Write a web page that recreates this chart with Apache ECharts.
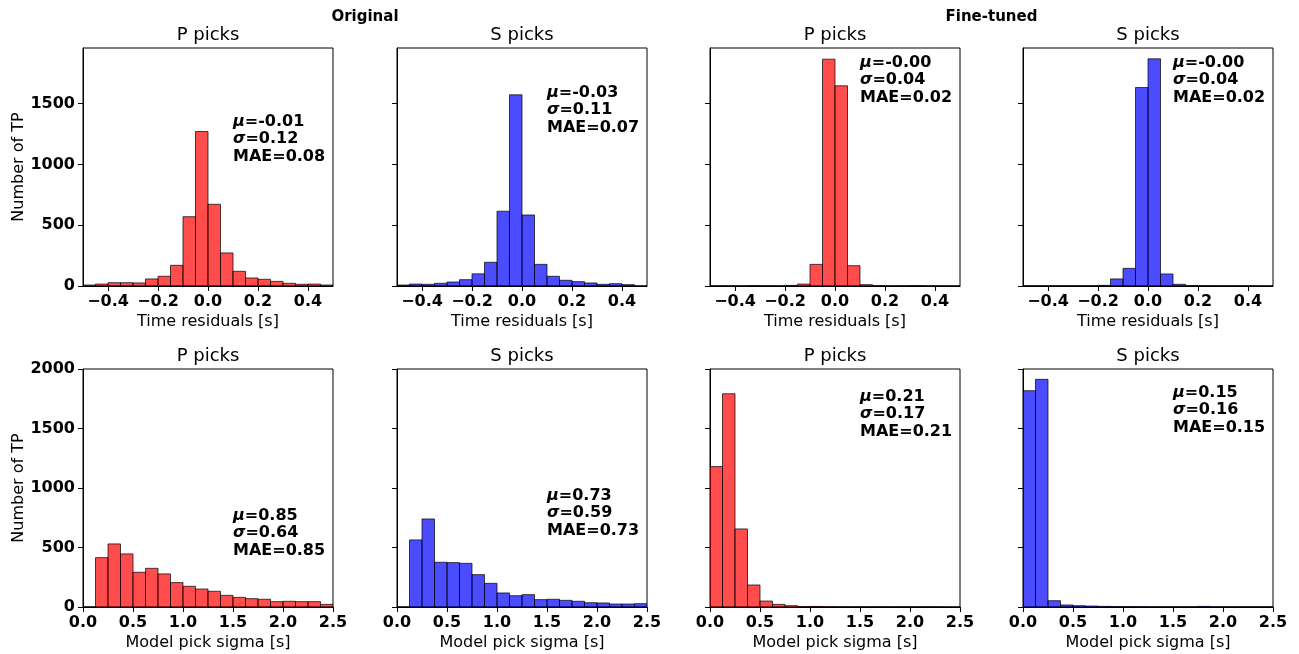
<!DOCTYPE html>
<html>
<head>
<meta charset="utf-8">
<script src="https://cdn.jsdelivr.net/npm/echarts@6.0.0/dist/echarts.min.js"></script>
<style>
    html, body {margin: 0; padding: 0; background: #fff;}
    #chart {width: 1299px; height: 654px;}
</style>
</head>
<body>
<div id="chart"></div>
<script>
// bin left edges
let timeBins = [-0.5, -0.45, -0.4, -0.35, -0.3, -0.25, -0.2, -0.15, -0.1, -0.05,
    0, 0.05, 0.1, 0.15, 0.2, 0.25, 0.3, 0.35, 0.4, 0.45];
let timeBinWidth = 0.05;
let sigmaBins = [0, 0.125, 0.25, 0.375, 0.5, 0.625, 0.75, 0.875, 1.0, 1.125,
    1.25, 1.375, 1.5, 1.625, 1.75, 1.875, 2.0, 2.125, 2.25, 2.375];
let sigmaBinWidth = 0.125;

// counts per bin
let origPTime = [8, 16, 27, 27, 25, 58, 80, 170, 570, 1270, 672, 272, 121, 66, 55, 38, 22, 14, 16, 8];
let origSTime = [8, 16, 14, 22, 33, 52, 100, 195, 615, 1572, 584, 178, 80, 47, 36, 25, 14, 19, 11, 0];
let ftPTime = [1, 1, 1, 3, 1, 1, 5, 16, 178, 1865, 1646, 167, 11, 3, 1, 1, 3, 1, 1, 0];
let ftSTime = [1, 1, 1, 1, 1, 1, 5, 58, 145, 1632, 1868, 99, 14, 3, 2, 1, 1, 1, 1, 0];
let origPSigma = [0, 415, 530, 446, 292, 325, 278, 205, 174, 151, 132, 98, 81, 70, 65, 45, 48, 45, 45, 22];
let origSSigma = [0, 564, 740, 376, 373, 367, 272, 199, 118, 95, 104, 62, 65, 56, 48, 36, 34, 25, 25, 28];
let ftPSigma = [1180, 1792, 656, 185, 50, 22, 11, 3, 5, 2, 1, 1, 1, 1, 1, 1, 1, 1, 1, 0];
let ftSSigma = [1818, 1913, 53, 17, 11, 8, 5, 3, 2, 2, 1, 1, 1, 1, 5, 1, 1, 1, 1, 1];

let timeTicks = [-0.4, -0.2, 0, 0.2, 0.4];
let sigmaTicks = [0, 0.5, 1.0, 1.5, 2.0, 2.5];
let timeCountTicks = [0, 500, 1000, 1500];
let sigmaCountTicks = [0, 500, 1000, 1500, 2000];

let groupTitles = ['Original', 'Fine-tuned'];
let panelTitles = ['P picks', 'S picks', 'P picks', 'S picks', 'P picks', 'S picks', 'P picks', 'S picks'];
// mu, sigma, MAE
let stats = [
    ['-0.01', '0.12', '0.08'], ['-0.03', '0.11', '0.07'], ['-0.00', '0.04', '0.02'], ['-0.00', '0.04', '0.02'],
    ['0.85', '0.64', '0.85'], ['0.73', '0.59', '0.73'], ['0.21', '0.17', '0.21'], ['0.15', '0.16', '0.15']
];

let RED = 'rgba(255,0,0,0.7)';
let BLUE = 'rgba(0,0,255,0.7)';
let FONT = 'DejaVu Sans';

let lefts = [83, 397, 710, 1023];
let tops = [48, 369];
let W = 250, H = 238;
let statsTop = [122, 93, 63, 63, 516, 496, 397, 393];

let panels = [
    {counts: origPTime, color: RED}, {counts: origSTime, color: BLUE},
    {counts: ftPTime, color: RED}, {counts: ftSTime, color: BLUE},
    {counts: origPSigma, color: RED}, {counts: origSSigma, color: BLUE},
    {counts: ftPSigma, color: RED}, {counts: ftSSigma, color: BLUE}
];

let fmtNum = (v) => (v < 0 ? '\u2212' : '') + Math.abs(v).toFixed(1);

let grid = [], xAxis = [], yAxis = [], series = [], graphic = [];

panels.forEach((p, i) => {
    let row = i < 4 ? 0 : 1;
    let col = i % 4;
    let isTime = row === 0;
    let bins = isTime ? timeBins : sigmaBins;
    let bw = isTime ? timeBinWidth : sigmaBinWidth;

    grid.push({
        left: lefts[col], top: tops[row], width: W, height: H,
        show: true, borderColor: '#000', borderWidth: 1, containLabel: false
    });

    xAxis.push({
        gridIndex: i,
        type: 'value',
        min: isTime ? -0.5 : 0,
        max: isTime ? 0.5 : 2.5,
        axisLine: {show: true, onZero: false, lineStyle: {color: '#000', width: 1}},
        axisTick: {show: true, length: 5, lineStyle: {color: '#000'},
            customValues: isTime ? timeTicks : sigmaTicks},
        axisLabel: {
            customValues: isTime ? timeTicks : sigmaTicks,
            formatter: fmtNum,
            color: '#000', fontFamily: FONT, fontSize: 16, fontWeight: 'bold', margin: 8
        },
        splitLine: {show: false},
        name: isTime ? 'Time residuals [s]' : 'Model pick sigma [s]',
        nameLocation: 'middle',
        nameGap: 28,
        nameTextStyle: {color: '#000', fontFamily: FONT, fontSize: 16}
    });

    let yTicks = isTime ? timeCountTicks : sigmaCountTicks;
    yAxis.push({
        gridIndex: i,
        type: 'value',
        min: 0,
        max: isTime ? 1957 : 2000,
        axisLine: {show: true, onZero: false, lineStyle: {color: '#000', width: 1}},
        axisTick: {show: true, length: 5, lineStyle: {color: '#000'}, customValues: yTicks},
        axisLabel: {
            show: col === 0,
            customValues: yTicks,
            formatter: (v) => String(v),
            color: '#000', fontFamily: FONT, fontSize: 16, fontWeight: 'bold', margin: 8
        },
        splitLine: {show: false},
        name: col === 0 ? 'Number of TP' : '',
        nameLocation: 'middle',
        nameGap: 53,
        nameTextStyle: {color: '#000', fontFamily: FONT, fontSize: 16}
    });

    series.push({
        type: 'custom',
        xAxisIndex: i,
        yAxisIndex: i,
        clip: true,
        encode: {x: [0, 1], y: 2},
        data: p.counts.map((c, k) => [bins[k], bins[k] + bw, c]),
        renderItem: (params, api) => {
            let a = api.coord([api.value(0), api.value(2)]);
            let b = api.coord([api.value(1), 0]);
            return {
                type: 'rect',
                shape: {x: a[0], y: a[1], width: b[0] - a[0], height: b[1] - a[1]},
                style: {fill: p.color, stroke: 'rgba(0,0,0,0.7)', lineWidth: 1}
            };
        }
    });

    // panel title
    graphic.push({
        type: 'text',
        x: lefts[col] + W / 2,
        y: tops[row] - 13,
        style: {text: panelTitles[i], fontFamily: FONT, fontSize: 18, fill: '#000',
            align: 'center', verticalAlign: 'middle'}
    });

    // stats box
    let s = stats[i];
    graphic.push({
        type: 'text',
        x: lefts[col] + 150,
        y: statsTop[i] - 9,
        style: {
            text: '{g|\u03bc}=' + s[0] + '\n{g|\u03c3}=' + s[1] + '\nMAE=' + s[2],
            fontFamily: FONT, fontSize: 16, fontWeight: 'bold', fill: '#000',
            lineHeight: 17.5, align: 'left', verticalAlign: 'top',
            rich: {g: {fontFamily: FONT, fontSize: 16, fontWeight: 'bold', fontStyle: 'italic', lineHeight: 17.5}}
        }
    });
});

// group headers
graphic.push({
    type: 'text', x: (lefts[0] + lefts[1] + W) / 2, y: 17,
    style: {text: groupTitles[0], fontFamily: FONT, fontSize: 15, fontWeight: 'bold', fill: '#000',
        align: 'center', verticalAlign: 'middle'}
});
graphic.push({
    type: 'text', x: (lefts[2] + lefts[3] + W) / 2, y: 17,
    style: {text: groupTitles[1], fontFamily: FONT, fontSize: 15, fontWeight: 'bold', fill: '#000',
        align: 'center', verticalAlign: 'middle'}
});

let option = {
    animation: false,
    backgroundColor: '#fff',
    grid: grid,
    xAxis: xAxis,
    yAxis: yAxis,
    series: series,
    graphic: graphic
};

let chart = echarts.init(document.getElementById('chart'));
chart.setOption(option);
</script>
</body>
</html>
